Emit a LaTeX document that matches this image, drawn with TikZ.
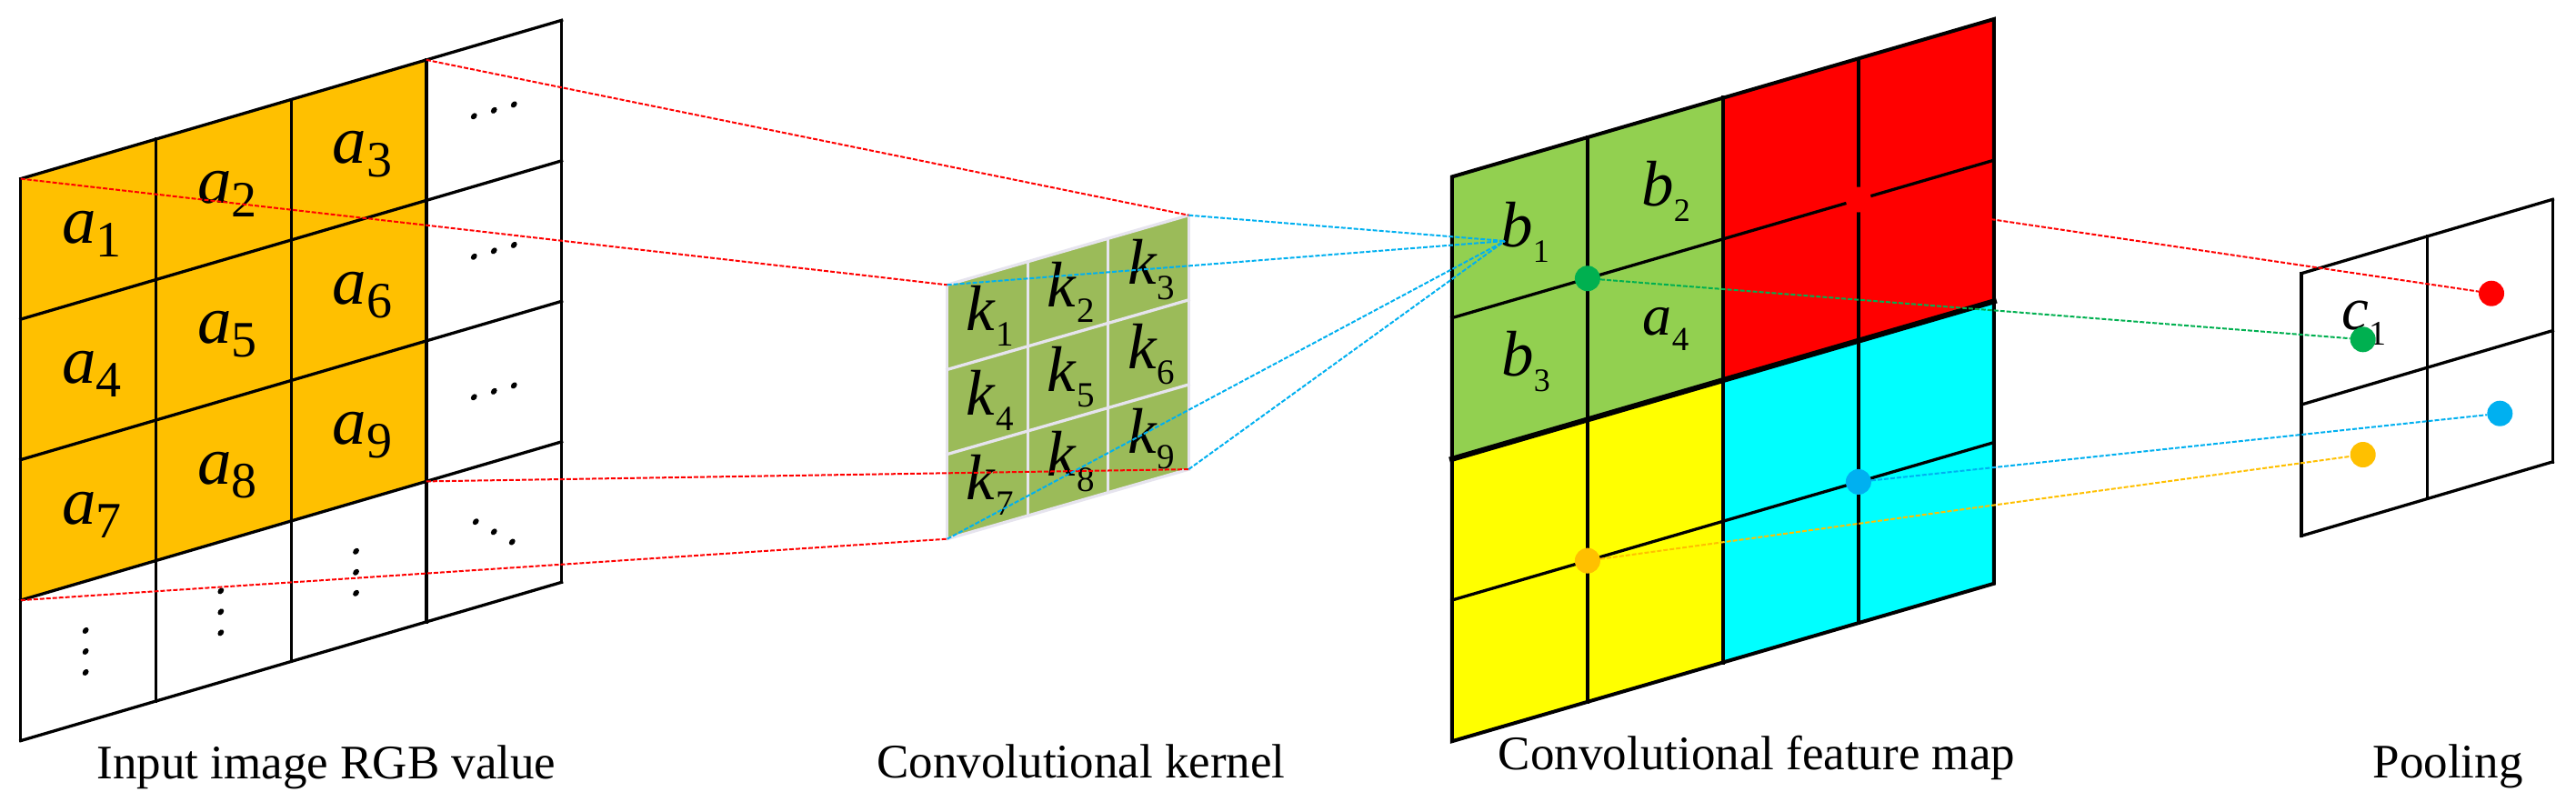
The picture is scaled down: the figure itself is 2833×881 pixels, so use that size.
\documentclass[tikz,border=0pt]{standalone}
\usepackage{fontspec}
\setmainfont{Liberation Serif}
\definecolor{inorange}{HTML}{FFC000}
\definecolor{kgreen}{HTML}{9BBB59}
\definecolor{klinecol}{RGB}{230,228,238}
\definecolor{fgreen}{HTML}{92D050}
\definecolor{fred}{HTML}{FF0000}
\definecolor{fyellow}{HTML}{FFFF00}
\definecolor{fcyan}{HTML}{00FFFF}
\definecolor{dgreen}{HTML}{00B050}
\definecolor{dblue}{HTML}{00B0F0}
\newcommand{\ix}[2]{\textit{#1}\raisebox{-\subdn}{\subsz #2}}
\tikzset{
  gridline/.style={line width=3.3pt, line cap=rect},
  klines/.style={draw=klinecol, line width=3.3pt, line cap=rect},
  conn/.style={line width=2pt, dash pattern=on 5pt off 2pt},
  pdot/.style={circle, fill=#1, inner sep=0pt, minimum size=28pt},
  ain/.style={font=\fontsize{75}{80}\selectfont\def\subsz{\fontsize{56}{60}\selectfont}\def\subdn{15pt}},
  kin/.style={font=\fontsize{71}{76}\selectfont\def\subsz{\fontsize{39}{42}\selectfont}\def\subdn{17pt}},
  bin/.style={font=\fontsize{71}{76}\selectfont\def\subsz{\fontsize{36}{40}\selectfont}\def\subdn{17pt}},
  fain/.style={font=\fontsize{64}{70}\selectfont\def\subsz{\fontsize{37}{40}\selectfont}\def\subdn{17pt}},
  cin/.style={font=\fontsize{67}{72}\selectfont\def\subsz{\fontsize{38}{42}\selectfont}\def\subdn{17pt}},
  figlabel/.style={font=\fontsize{53}{60}\selectfont, anchor=base},
}
\begin{document}
\begin{tikzpicture}[x=1pt, y=-1pt]
\def\iw{148.7}\def\ih{154.5}
\def\kw{88.53}\def\kh{93.13}
\def\fw{149}\def\fh{155.2}
\def\pw{138.15}\def\ph{144.3}
\path[fill=white, use as bounding box] (0,0) rectangle (2833,881);

% input image
\begin{scope}[shift={(22.8,196.6)}, yslant=0.293]
\fill[inorange] (0,0) rectangle (3*\iw,3*\ih);
\foreach \i in {0,...,4} {
  \draw[gridline] (\i*\iw,0) -- (\i*\iw,4*\ih);
  \draw[gridline] (0,\i*\ih) -- (4*\iw,\i*\ih);
}
\foreach \k in {1,...,9} {
  \pgfmathtruncatemacro\col{mod(\k-1,3)}
  \pgfmathtruncatemacro\row{(\k-1)/3}
  \node[ain] (a\k) at ({(\col+0.5)*\iw+4},{(\row+0.5)*\ih+6}) {\ix{a}{\k}};
}
\foreach \row in {0,1,2}
  \foreach \dx in {-22,0,22}
    \fill ({3.5*\iw+\dx},{(\row+0.5)*\ih}) circle (3.4);
\foreach \col in {0,1,2}
  \foreach \dy in {-23,0,23}
    \fill ({(\col+0.5)*\iw-3},{3.5*\ih+\dy}) circle (3.4);
\foreach \d in {-1,0,1}
  \fill ({3.5*\iw+20*\d},{3.5*\ih+17*\d}) circle (3.4);
\coordinate (in-tl) at (0,0);
\coordinate (in-tr) at (3*\iw,0);
\coordinate (in-br) at (3*\iw,3*\ih);
\coordinate (in-bl) at (0,3*\ih);
\end{scope}

% kernel
\begin{scope}[shift={(1041.7,313.3)}, yslant=0.2884]
\fill[kgreen] (0,0) rectangle (3*\kw,3*\kh);
\foreach \i in {0,...,3} {
  \draw[klines] (\i*\kw,0) -- (\i*\kw,3*\kh);
  \draw[klines] (0,\i*\kh) -- (3*\kw,\i*\kh);
}
\foreach \k in {1,...,9} {
  \pgfmathtruncatemacro\col{mod(\k-1,3)}
  \pgfmathtruncatemacro\row{(\k-1)/3}
  \node[kin] (k\k) at ({(\col+0.5)*\kw+3},{(\row+0.5)*\kh+1}) {\ix{k}{\k}};
}
\coordinate (k-tl) at (0,0);
\coordinate (k-tr) at (3*\kw,0);
\coordinate (k-br) at (3*\kw,3*\kh);
\coordinate (k-bl) at (0,3*\kh);
\end{scope}

% feature map
\begin{scope}[shift={(1596.9,194.4)}, yslant=0.291]
\fill[fgreen] (0,0) rectangle (2*\fw,2*\fh);
\fill[fred] (2*\fw,0) rectangle (4*\fw,2*\fh);
\fill[fyellow] (0,2*\fh) rectangle (2*\fw,4*\fh);
\fill[fcyan] (2*\fw,2*\fh) rectangle (4*\fw,4*\fh);
\foreach \i in {1,3} {
  \draw[gridline] (\i*\fw,0) -- (\i*\fw,4*\fh);
  \draw[gridline] (0,\i*\fh) -- (4*\fw,\i*\fh);
}
\draw[gridline, line width=4.5pt] (2*\fw,0) -- (2*\fw,4*\fh);
\draw[gridline, line width=6pt] (0,2*\fh) -- (4*\fw,2*\fh);
\draw[line width=4pt] (0,0) rectangle (4*\fw,4*\fh);
\end{scope}
\node[bin] (b1) at (1677,255) {\ix{b}{1}};
\node[bin] (b2) at (1832,210) {\ix{b}{2}};
\node[bin] (b3) at (1678,398) {\ix{b}{3}};
\node[fain] (fa4) at (1832,362) {\ix{a}{4}};
\begin{scope}[shift={(1596.9,194.4)}, yslant=0.291]
\node[pdot=dgreen] (f-g) at (\fw,\fh) {};
\node[pdot=fred] (f-r) at (3*\fw,\fh) {};
\node[pdot=inorange] (f-o) at (\fw,3*\fh) {};
\node[pdot=dblue] (f-b) at (3*\fw,3*\fh) {};
\end{scope}
\coordinate (conv) at (1655,265);

% pooling
\begin{scope}[shift={(2531,300.7)}, yslant=0.2946]
\foreach \i in {0,1,2} {
  \draw[gridline] (\i*\pw,0) -- (\i*\pw,2*\ph);
  \draw[gridline] (0,\i*\ph) -- (2*\pw,\i*\ph);
}
\end{scope}
\node[cin] (c1) at (2600,355.5) {\ix{c}{1}};
\node[pdot=fred] (p-r) at (2740,322.7) {};
\node[pdot=dgreen] (p-g) at (2598.7,373.3) {};
\node[pdot=dblue] (p-b) at (2749.3,454.7) {};
\node[pdot=inorange] (p-o) at (2598.7,500) {};

\draw[conn, fred] (in-tl) -- (k-tl);
\draw[conn, fred] (in-tr) -- (k-tr);
\draw[conn, fred] (in-br) -- (k-br);
\draw[conn, fred] (in-bl) -- (k-bl);
\draw[conn, dblue] (k-tl) -- (conv);
\draw[conn, dblue] (k-tr) -- (conv);
\draw[conn, dblue] (k-bl) -- (conv);
\draw[conn, dblue] (k-br) -- (conv);
\draw[conn, fred] (f-r) -- (p-r);
\draw[conn, dgreen] (f-g) -- (p-g);
\draw[conn, dblue] (f-b) -- (p-b);
\draw[conn, inorange] (f-o) -- (p-o);

\node[figlabel] (t-in) at (359,856) {Input image RGB value};
\node[figlabel] (t-k) at (1189,855) {Convolutional kernel};
\node[figlabel] (t-f) at (1932,846) {Convolutional feature map};
\node[figlabel] (t-p) at (2692,855) {Pooling};
\end{tikzpicture}
\end{document}
